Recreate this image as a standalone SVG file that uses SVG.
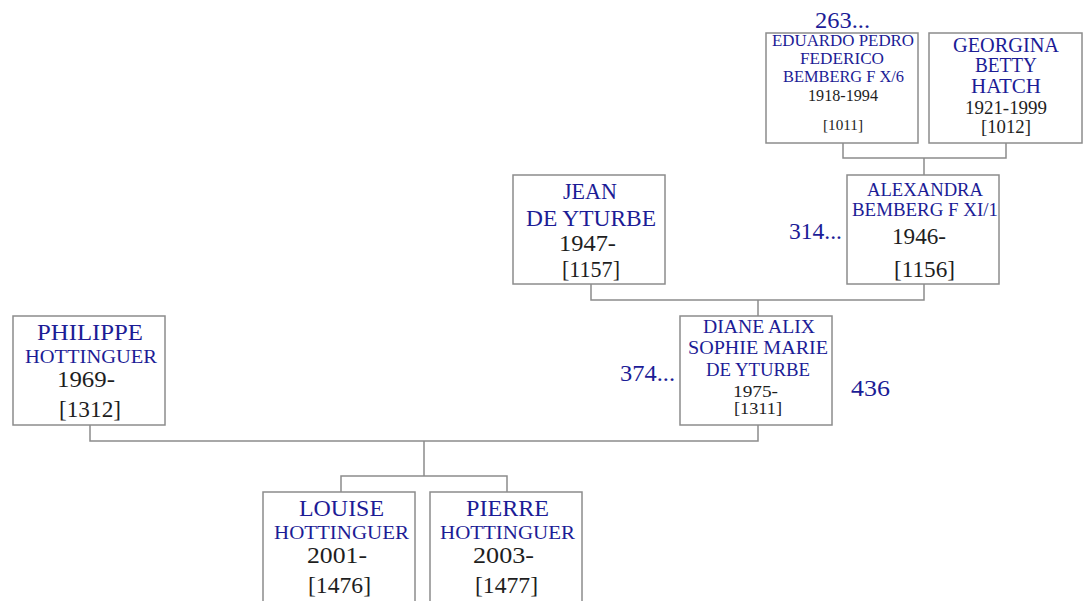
<svg xmlns="http://www.w3.org/2000/svg" width="1085" height="601" viewBox="0 0 1085 601">
<style>
.box{fill:#fff;stroke:#8c8c8c;stroke-width:1.5}
.ln{fill:none;stroke:#8c8c8c;stroke-width:1.5}
.nm{fill:#1c1c96;font-family:"Liberation Serif","DejaVu Serif",serif}
.dt{fill:#1e1e1e;font-family:"Liberation Serif","DejaVu Serif",serif}
.num{fill:#1c1c96;font-family:"Liberation Serif","DejaVu Serif",serif;font-size:24px}
</style>
<rect width="1085" height="601" fill="#fff"/>
<g id="connectors">
<path class="ln" d="M843,143V158H1006V143M924,158V175"/>
<path class="ln" d="M591,284V300H924V284M758,300V316"/>
<path class="ln" d="M90,425V441H758V425M424,441V476H341V492M424,476H507V492"/>
</g>
<g id="n1011">
<rect class="box" x="766" y="33" width="152" height="110"/>
<text class="nm" font-size="16" x="772" y="46" textLength="142" lengthAdjust="spacingAndGlyphs">EDUARDO PEDRO</text>
<text class="nm" font-size="16" x="800" y="64" textLength="84" lengthAdjust="spacingAndGlyphs">FEDERICO</text>
<text class="nm" font-size="16" x="783" y="82" textLength="121" lengthAdjust="spacingAndGlyphs">BEMBERG F X/6</text>
<text class="dt" font-size="16" x="808" y="101" textLength="70" lengthAdjust="spacingAndGlyphs">1918-1994</text>
<text class="dt" font-size="15" x="823" y="130" textLength="40" lengthAdjust="spacingAndGlyphs">[1011]</text>
</g>
<g id="n1012">
<rect class="box" x="929" y="33" width="153" height="110"/>
<text class="nm" font-size="20" x="953" y="52" textLength="106" lengthAdjust="spacingAndGlyphs">GEORGINA</text>
<text class="nm" font-size="20" x="975" y="72" textLength="62" lengthAdjust="spacingAndGlyphs">BETTY</text>
<text class="nm" font-size="20" x="971" y="93" textLength="70" lengthAdjust="spacingAndGlyphs">HATCH</text>
<text class="dt" font-size="18" x="965" y="114" textLength="82" lengthAdjust="spacingAndGlyphs">1921-1999</text>
<text class="dt" font-size="18" x="981" y="133" textLength="50" lengthAdjust="spacingAndGlyphs">[1012]</text>
</g>
<text class="num" x="815" y="28" textLength="55" lengthAdjust="spacingAndGlyphs">263...</text>
<g id="n1157">
<rect class="box" x="513" y="175" width="152" height="109"/>
<text class="nm" font-size="24" x="563" y="199" textLength="54" lengthAdjust="spacingAndGlyphs">JEAN</text>
<text class="nm" font-size="24" x="526" y="226" textLength="130" lengthAdjust="spacingAndGlyphs">DE YTURBE</text>
<text class="dt" font-size="24" x="559" y="251" textLength="57" lengthAdjust="spacingAndGlyphs">1947-</text>
<text class="dt" font-size="24" x="562" y="277" textLength="58" lengthAdjust="spacingAndGlyphs">[1157]</text>
</g>
<g id="n1156">
<rect class="box" x="847" y="175" width="152" height="109"/>
<text class="nm" font-size="18" x="867" y="196" textLength="116" lengthAdjust="spacingAndGlyphs">ALEXANDRA</text>
<text class="nm" font-size="18" x="852" y="216" textLength="146" lengthAdjust="spacingAndGlyphs">BEMBERG F XI/1</text>
<text class="dt" font-size="24" x="892" y="244" textLength="54" lengthAdjust="spacingAndGlyphs">1946-</text>
<text class="dt" font-size="24" x="894" y="277" textLength="61" lengthAdjust="spacingAndGlyphs">[1156]</text>
</g>
<text class="num" x="789" y="239" textLength="53" lengthAdjust="spacingAndGlyphs">314...</text>
<g id="n1312">
<rect class="box" x="13" y="316" width="152" height="109"/>
<text class="nm" font-size="24" x="37" y="340" textLength="106" lengthAdjust="spacingAndGlyphs">PHILIPPE</text>
<text class="nm" font-size="19" x="25" y="363" textLength="132" lengthAdjust="spacingAndGlyphs">HOTTINGUER</text>
<text class="dt" font-size="24" x="57" y="387" textLength="58" lengthAdjust="spacingAndGlyphs">1969-</text>
<text class="dt" font-size="24" x="59" y="417" textLength="62" lengthAdjust="spacingAndGlyphs">[1312]</text>
</g>
<g id="n1311">
<rect class="box" x="680" y="316" width="152" height="109"/>
<text class="nm" font-size="18" x="703" y="333" textLength="112" lengthAdjust="spacingAndGlyphs">DIANE ALIX</text>
<text class="nm" font-size="18" x="688" y="354" textLength="140" lengthAdjust="spacingAndGlyphs">SOPHIE MARIE</text>
<text class="nm" font-size="18" x="706" y="376" textLength="104" lengthAdjust="spacingAndGlyphs">DE YTURBE</text>
<text class="dt" font-size="17" x="733" y="397" textLength="45" lengthAdjust="spacingAndGlyphs">1975-</text>
<text class="dt" font-size="17" x="734" y="414" textLength="48" lengthAdjust="spacingAndGlyphs">[1311]</text>
</g>
<text class="num" x="620" y="381" textLength="55" lengthAdjust="spacingAndGlyphs">374...</text>
<text class="num" x="851" y="396" textLength="39" lengthAdjust="spacingAndGlyphs">436</text>
<g id="n1476">
<rect class="box" x="263" y="492" width="152" height="130"/>
<text class="nm" font-size="24" x="299" y="516" textLength="85" lengthAdjust="spacingAndGlyphs">LOUISE</text>
<text class="nm" font-size="19" x="274" y="539" textLength="135" lengthAdjust="spacingAndGlyphs">HOTTINGUER</text>
<text class="dt" font-size="24" x="307" y="563" textLength="60" lengthAdjust="spacingAndGlyphs">2001-</text>
<text class="dt" font-size="24" x="308" y="593" textLength="63" lengthAdjust="spacingAndGlyphs">[1476]</text>
</g>
<g id="n1477">
<rect class="box" x="430" y="492" width="152" height="130"/>
<text class="nm" font-size="24" x="466" y="516" textLength="83" lengthAdjust="spacingAndGlyphs">PIERRE</text>
<text class="nm" font-size="19" x="440" y="539" textLength="135" lengthAdjust="spacingAndGlyphs">HOTTINGUER</text>
<text class="dt" font-size="24" x="473" y="563" textLength="61" lengthAdjust="spacingAndGlyphs">2003-</text>
<text class="dt" font-size="24" x="475" y="593" textLength="63" lengthAdjust="spacingAndGlyphs">[1477]</text>
</g>
</svg>
